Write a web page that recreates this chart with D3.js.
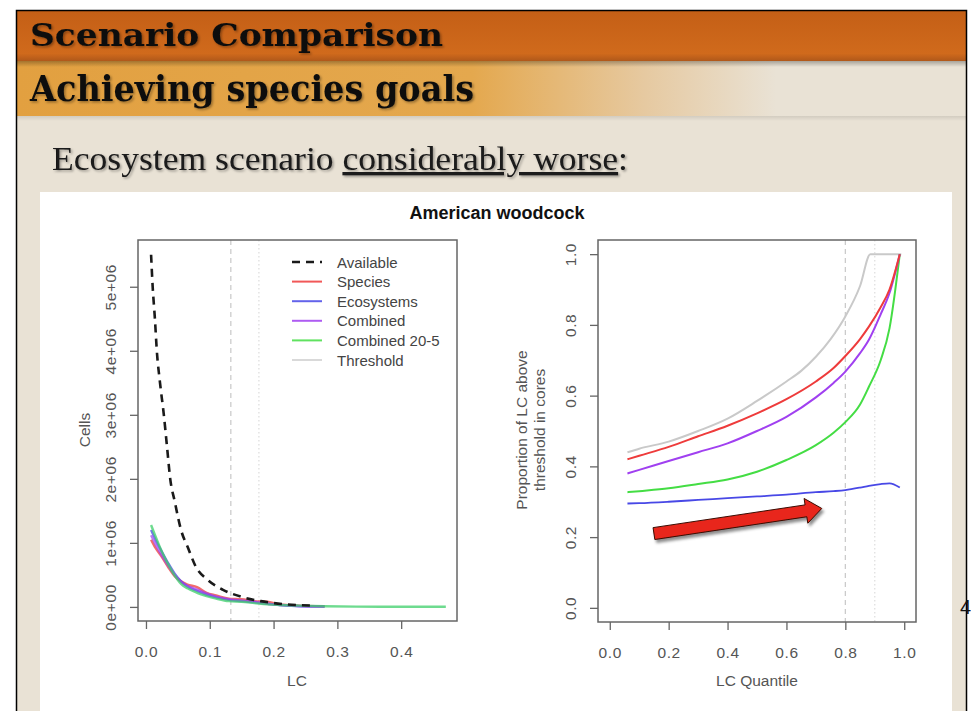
<!DOCTYPE html>
<html>
<head>
<meta charset="utf-8">
<script src="https://cdn.jsdelivr.net/npm/d3@7"></script>
<style>
  body { margin: 0; background: #fff; }
  svg { display: block; }
</style>
</head>
<body>
<svg id="slide" width="971" height="711"></svg>
<script>
// ---------- data ----------
const legendNames  = ["Available", "Species", "Ecosystems", "Combined", "Combined 20-5", "Threshold"];
const legendColors = ["#1a1a1a", "#ee3b3b", "#4848e6", "#a040f0", "#44dd44", "#c9c9c9"];

// left panel: Cells vs LC
const availLC    = [0.008, 0.0105, 0.014, 0.017, 0.022, 0.028, 0.033, 0.038, 0.045, 0.055, 0.066, 0.078, 0.097, 0.12, 0.149, 0.18, 0.22, 0.26];
const availCells = [5.5e6, 5.0e6, 4.5e6, 4.0e6, 3.5e6, 3.0e6, 2.5e6, 2.0e6, 1.65e6, 1.2e6, 0.92e6, 0.63e6, 0.42e6, 0.27e6, 0.16e6, 0.09e6, 0.04e6, 0.02e6];

const lcGrid          = [0.008, 0.015, 0.025, 0.035, 0.045, 0.055, 0.065, 0.08, 0.095, 0.11, 0.13, 0.15, 0.17, 0.19, 0.21, 0.24, 0.28];
const speciesCells    = [1.05e6, 0.92e6, 0.78e6, 0.62e6, 0.48e6, 0.40e6, 0.35e6, 0.31e6, 0.22e6, 0.18e6, 0.13e6, 0.12e6, 0.09e6, 0.08e6, 0.04e6, 0.02e6, 0.01e6];
const ecosystemsCells = [1.20e6, 1.05e6, 0.86e6, 0.68e6, 0.52e6, 0.40e6, 0.32e6, 0.25e6, 0.19e6, 0.15e6, 0.11e6, 0.09e6, 0.07e6, 0.05e6, 0.03e6, 0.01e6, 0.005e6];
const combinedCells   = [1.12e6, 0.98e6, 0.80e6, 0.64e6, 0.50e6, 0.39e6, 0.33e6, 0.27e6, 0.21e6, 0.16e6, 0.12e6, 0.10e6, 0.08e6, 0.05e6, 0.03e6, 0.015e6, 0.01e6];
const green205LC       = [0.008, 0.015, 0.025, 0.035, 0.045, 0.055, 0.065, 0.08, 0.095, 0.11, 0.13, 0.15, 0.17, 0.19, 0.21, 0.24, 0.28, 0.33, 0.40, 0.47];
const combined205Cells = [1.28e6, 1.10e6, 0.86e6, 0.66e6, 0.49e6, 0.36e6, 0.29e6, 0.22e6, 0.17e6, 0.13e6, 0.09e6, 0.08e6, 0.06e6, 0.04e6, 0.03e6, 0.02e6, 0.01e6, 0.005e6, 0.003e6, 0.002e6];
const lcCutoffs = [0.133, 0.177];

// right panel: proportion vs LC quantile
const qGrid        = [0.06, 0.1, 0.2, 0.3, 0.4, 0.5, 0.6, 0.7, 0.76, 0.8, 0.85, 0.88, 0.92, 0.95, 0.985];
const speciesProp  = [0.42, 0.43, 0.455, 0.485, 0.515, 0.55, 0.59, 0.64, 0.678, 0.712, 0.76, 0.795, 0.85, 0.90, 1.0];
const combinedProp = [0.38, 0.39, 0.415, 0.44, 0.465, 0.50, 0.54, 0.595, 0.636, 0.668, 0.72, 0.758, 0.83, 0.89, 1.0];
const comb205Prop  = [0.327, 0.33, 0.338, 0.35, 0.363, 0.385, 0.418, 0.46, 0.495, 0.525, 0.575, 0.625, 0.70, 0.79, 1.0];
const ecosysProp   = [0.295, 0.296, 0.30, 0.305, 0.31, 0.315, 0.32, 0.327, 0.33, 0.333, 0.34, 0.345, 0.35, 0.352, 0.34];
const thresholdQ    = [0.06, 0.1, 0.2, 0.3, 0.4, 0.5, 0.6, 0.65, 0.7, 0.75, 0.8, 0.85, 0.885, 0.99];
const thresholdProp = [0.44, 0.45, 0.47, 0.50, 0.535, 0.585, 0.64, 0.67, 0.71, 0.76, 0.824, 0.91, 1.0, 1.0];
const quantileCutoffs = [0.8, 0.9];

// arrow annotation (in right panel data units)
const arrowFrom = [0.15, 0.21];
const arrowTo   = [0.72, 0.281];

// ticks
const lcTicks = [0, 0.1, 0.2, 0.3, 0.4];
const lcTickLabels = ["0.0", "0.1", "0.2", "0.3", "0.4"];
const cellTicks = [0, 1e6, 2e6, 3e6, 4e6, 5e6];
const cellTickLabels = ["0e+00", "1e+06", "2e+06", "3e+06", "4e+06", "5e+06"];
const qTicks = [0, 0.2, 0.4, 0.6, 0.8, 1.0];
const qTickLabels = ["0.0", "0.2", "0.4", "0.6", "0.8", "1.0"];

// ---------- slide ----------
const svg = d3.select("#slide");
const defs = svg.append("defs");

const orangeGrad = defs.append("linearGradient").attr("id", "orange").attr("x1", 0).attr("y1", 0).attr("x2", 0).attr("y2", 1);
orangeGrad.append("stop").attr("offset", "0%").attr("stop-color", "#c45f16");
orangeGrad.append("stop").attr("offset", "85%").attr("stop-color", "#d06a1c");
orangeGrad.append("stop").attr("offset", "100%").attr("stop-color", "#b0581a");

const goldGrad = defs.append("linearGradient").attr("id", "gold").attr("x1", 0).attr("y1", 0).attr("x2", 1).attr("y2", 0);
goldGrad.append("stop").attr("offset", "0%").attr("stop-color", "#e2a040");
goldGrad.append("stop").attr("offset", "48%").attr("stop-color", "#e4a84e");
goldGrad.append("stop").attr("offset", "66%").attr("stop-color", "#e6c9a0");
goldGrad.append("stop").attr("offset", "80%").attr("stop-color", "#e9e2d5");

const shadowGrad = defs.append("linearGradient").attr("id", "bandShadow").attr("x1", 0).attr("y1", 0).attr("x2", 0).attr("y2", 1);
shadowGrad.append("stop").attr("offset", "0%").attr("stop-color", "#000").attr("stop-opacity", 0.28);
shadowGrad.append("stop").attr("offset", "100%").attr("stop-color", "#000").attr("stop-opacity", 0);

const textShadow = defs.append("filter").attr("id", "tshadow").attr("x", "-5%").attr("y", "-20%").attr("width", "110%").attr("height", "140%");
textShadow.append("feDropShadow").attr("dx", 1.5).attr("dy", 1.5).attr("stdDeviation", 1.2)
  .attr("flood-color", "#000").attr("flood-opacity", 0.35);

const arrowShadow = defs.append("filter").attr("id", "ashadow").attr("x", "-10%").attr("y", "-30%").attr("width", "130%").attr("height", "180%");
arrowShadow.append("feDropShadow").attr("dx", 2).attr("dy", 3).attr("stdDeviation", 1.5)
  .attr("flood-color", "#000").attr("flood-opacity", 0.45);

// beige slide and frame
svg.append("rect").attr("x", 17).attr("y", 11).attr("width", 949).attr("height", 700).attr("fill", "#e9e2d5");
svg.append("rect").attr("x", 17).attr("y", 11).attr("width", 949).attr("height", 50).attr("fill", "url(#orange)");
svg.append("rect").attr("x", 17).attr("y", 61).attr("width", 949).attr("height", 55).attr("fill", "url(#gold)");
svg.append("rect").attr("x", 17).attr("y", 61).attr("width", 949).attr("height", 6).attr("fill", "url(#bandShadow)");
svg.append("rect").attr("x", 17).attr("y", 116).attr("width", 949).attr("height", 5).attr("fill", "url(#bandShadow)").attr("opacity", 0.35);
svg.append("path").attr("d", "M16.5,711V10.5H966.5V711").attr("fill", "none").attr("stroke", "#000").attr("stroke-width", 1.5);

const titleSerif = "'DejaVu Serif', 'Liberation Serif', serif";
const serif = "'Liberation Serif', 'DejaVu Serif', serif";
svg.append("text").attr("x", 30).attr("y", 46)
  .attr("font-family", titleSerif).attr("font-weight", "bold").attr("font-size", 32)
  .attr("textLength", 413).attr("lengthAdjust", "spacingAndGlyphs")
  .attr("fill", "#111").attr("filter", "url(#tshadow)")
  .text("Scenario Comparison");
svg.append("text").attr("x", 30).attr("y", 101)
  .attr("font-family", titleSerif).attr("font-weight", "bold").attr("font-size", 35)
  .attr("textLength", 444).attr("lengthAdjust", "spacingAndGlyphs")
  .attr("fill", "#111").attr("filter", "url(#tshadow)")
  .text("Achieving species goals");
const sub = svg.append("text").attr("x", 52).attr("y", 170)
  .attr("font-family", serif).attr("font-size", 33)
  .attr("textLength", 576).attr("lengthAdjust", "spacingAndGlyphs")
  .attr("fill", "#1a1a1a").attr("filter", "url(#tshadow)");
sub.append("tspan").text("Ecosystem scenario ");
sub.append("tspan").style("text-decoration", "underline").text("considerably worse");
sub.append("tspan").text(":");

// page number peeking at the right edge
svg.append("text").attr("x", 960).attr("y", 614).attr("font-family", "'Liberation Sans', sans-serif")
  .attr("font-size", 20).attr("fill", "#111").text("4");

// white chart panel
svg.append("rect").attr("x", 40).attr("y", 192).attr("width", 912).attr("height", 519).attr("fill", "#fff");

const sans = "'Liberation Sans', Arial, sans-serif";
svg.append("text").attr("x", 497).attr("y", 219).attr("text-anchor", "middle")
  .attr("font-family", sans).attr("font-weight", "bold").attr("font-size", 18).attr("fill", "#111")
  .text("American woodcock");

// ---------- helpers ----------
function panel(box, xDom, yDom) {
  const x = d3.scaleLinear().domain(xDom).range([box.x0, box.x1]);
  const y = d3.scaleLinear().domain(yDom).range([box.y1, box.y0]);
  return { x, y, box };
}

function drawAxes(p, xTicks, xLabels, yTicks, yLabels) {
  const gx = svg.append("g").attr("transform", `translate(0,${p.box.y1})`)
    .call(d3.axisBottom(p.x).tickValues(xTicks).tickFormat((d, i) => xLabels[i]).tickSize(8).tickSizeOuter(0));
  gx.select(".domain").remove();
  gx.selectAll("line").attr("stroke", "#666").attr("stroke-width", 1.3);
  gx.selectAll("text").attr("y", 36).attr("dy", null)
    .attr("font-family", sans).attr("font-size", 15.5).attr("fill", "#555").attr("letter-spacing", 0.6);

  const gy = svg.append("g").attr("transform", `translate(${p.box.x0},0)`)
    .call(d3.axisLeft(p.y).tickValues(yTicks).tickFormat((d, i) => yLabels[i]).tickSize(8).tickSizeOuter(0));
  gy.select(".domain").remove();
  gy.selectAll("line").attr("stroke", "#666").attr("stroke-width", 1.3);
  gy.selectAll("text").attr("x", null).attr("dy", null).attr("text-anchor", "middle")
    .attr("transform", "translate(-22,0) rotate(-90)")
    .attr("font-family", sans).attr("font-size", 15.5).attr("fill", "#555").attr("letter-spacing", 0.6);

  svg.append("rect").attr("x", p.box.x0).attr("y", p.box.y0)
    .attr("width", p.box.x1 - p.box.x0).attr("height", p.box.y1 - p.box.y0)
    .attr("fill", "none").attr("stroke", "#666").attr("stroke-width", 1.5);
}

function cutoffLines(p, values) {
  values.forEach((v, i) => {
    svg.append("line").attr("x1", p.x(v)).attr("x2", p.x(v)).attr("y1", p.box.y0).attr("y2", p.box.y1)
      .attr("stroke", i === 0 ? "#c8c8c8" : "#dcdcdc").attr("stroke-width", 1.2)
      .attr("stroke-dasharray", i === 0 ? "5,4" : "1.5,2.5");
  });
}

function drawSeries(p, xs, ys, color, opts = {}) {
  const line = d3.line().x(d => p.x(d[0])).y(d => p.y(d[1])).curve(opts.curve || d3.curveLinear);
  svg.append("path").datum(d3.zip(xs, ys)).attr("d", line)
    .attr("fill", "none").attr("stroke", color).attr("stroke-width", opts.width || 2)
    .attr("stroke-opacity", opts.opacity ?? 1).attr("stroke-dasharray", opts.dash || null)
    .attr("stroke-linejoin", "round");
}

// ---------- left panel ----------
const left = panel({ x0: 138, x1: 457, y0: 240, y1: 621 }, [-0.0125, 0.4875], [-0.22e6, 5.73e6]);
cutoffLines(left, lcCutoffs);
drawSeries(left, lcGrid, speciesCells, legendColors[1], { width: 2.4, opacity: 0.75, curve: d3.curveMonotoneX });
drawSeries(left, lcGrid, ecosystemsCells, legendColors[2], { width: 2.4, opacity: 0.75, curve: d3.curveMonotoneX });
drawSeries(left, lcGrid, combinedCells, legendColors[3], { width: 2.4, opacity: 0.7, curve: d3.curveMonotoneX });
drawSeries(left, green205LC, combined205Cells, "#3dcf6a", { width: 2.4, opacity: 0.75, curve: d3.curveMonotoneX });
drawSeries(left, availLC, availCells, legendColors[0], { width: 2.6, dash: "8,6", curve: d3.curveMonotoneX });
drawAxes(left, lcTicks, lcTickLabels, cellTicks, cellTickLabels);

svg.append("text").attr("transform", "translate(90,430) rotate(-90)").attr("text-anchor", "middle")
  .attr("font-family", sans).attr("font-size", 15.5).attr("fill", "#555").text("Cells");
svg.append("text").attr("x", 297).attr("y", 686).attr("text-anchor", "middle")
  .attr("font-family", sans).attr("font-size", 15.5).attr("fill", "#555").text("LC");

// legend
const leg = svg.append("g").attr("transform", "translate(292,262)");
legendNames.forEach((name, i) => {
  const row = leg.append("g").attr("transform", `translate(0,${i * 19.6})`);
  row.append("line").attr("x1", 0).attr("x2", 30).attr("y1", 0).attr("y2", 0)
    .attr("stroke", legendColors[i]).attr("stroke-width", i === 0 ? 2.6 : (i === 5 ? 1.4 : 2))
    .attr("stroke-dasharray", i === 0 ? "8,6" : null)
    .attr("stroke-opacity", i === 0 || i === 5 ? 1 : 0.85);
  row.append("text").attr("x", 45).attr("y", 5.5)
    .attr("font-family", sans).attr("font-size", 15).attr("fill", "#444").text(name);
});

// ---------- right panel ----------
const right = panel({ x0: 598, x1: 916, y0: 240, y1: 622 }, [-0.04, 1.04], [-0.04, 1.04]);
cutoffLines(right, quantileCutoffs);
drawSeries(right, thresholdQ, thresholdProp, legendColors[5], { width: 2, curve: d3.curveMonotoneX });
drawSeries(right, qGrid, comb205Prop, legendColors[4], { width: 2, curve: d3.curveMonotoneX });
drawSeries(right, qGrid, combinedProp, legendColors[3], { width: 2, curve: d3.curveMonotoneX });
drawSeries(right, qGrid, speciesProp, legendColors[1], { width: 2, curve: d3.curveMonotoneX });
drawSeries(right, qGrid, ecosysProp, legendColors[2], { width: 1.8, curve: d3.curveMonotoneX });
drawAxes(right, qTicks, qTickLabels, qTicks, qTickLabels);

svg.append("text").attr("transform", "translate(527,430) rotate(-90)").attr("text-anchor", "middle")
  .attr("font-family", sans).attr("font-size", 15.5).attr("fill", "#555").text("Proportion of LC above");
svg.append("text").attr("transform", "translate(545,430) rotate(-90)").attr("text-anchor", "middle")
  .attr("font-family", sans).attr("font-size", 15.5).attr("fill", "#555").text("threshold in cores");
svg.append("text").attr("x", 757).attr("y", 686).attr("text-anchor", "middle")
  .attr("font-family", sans).attr("font-size", 15.5).attr("fill", "#555").text("LC Quantile");

// block arrow
function blockArrow(p0, p1, shaft, head, headLen) {
  const dx = p1[0] - p0[0], dy = p1[1] - p0[1], L = Math.hypot(dx, dy);
  const ux = dx / L, uy = dy / L, nx = -uy, ny = ux;
  const b = [p1[0] - ux * headLen, p1[1] - uy * headLen];
  return [
    [p0[0] + nx * shaft, p0[1] + ny * shaft],
    [b[0] + nx * shaft, b[1] + ny * shaft],
    [b[0] + nx * head, b[1] + ny * head],
    p1,
    [b[0] - nx * head, b[1] - ny * head],
    [b[0] - nx * shaft, b[1] - ny * shaft],
    [p0[0] - nx * shaft, p0[1] - ny * shaft]
  ];
}
const a0 = [right.x(arrowFrom[0]), right.y(arrowFrom[1])];
const a1 = [right.x(arrowTo[0]), right.y(arrowTo[1])];
svg.append("path").attr("d", d3.line()(blockArrow(a0, a1, 6, 12.5, 16)) + "Z")
  .attr("fill", "#e8281a").attr("stroke", "#3a0800").attr("stroke-width", 1)
  .attr("stroke-linejoin", "miter").attr("filter", "url(#ashadow)");
</script>
</body>
</html>
